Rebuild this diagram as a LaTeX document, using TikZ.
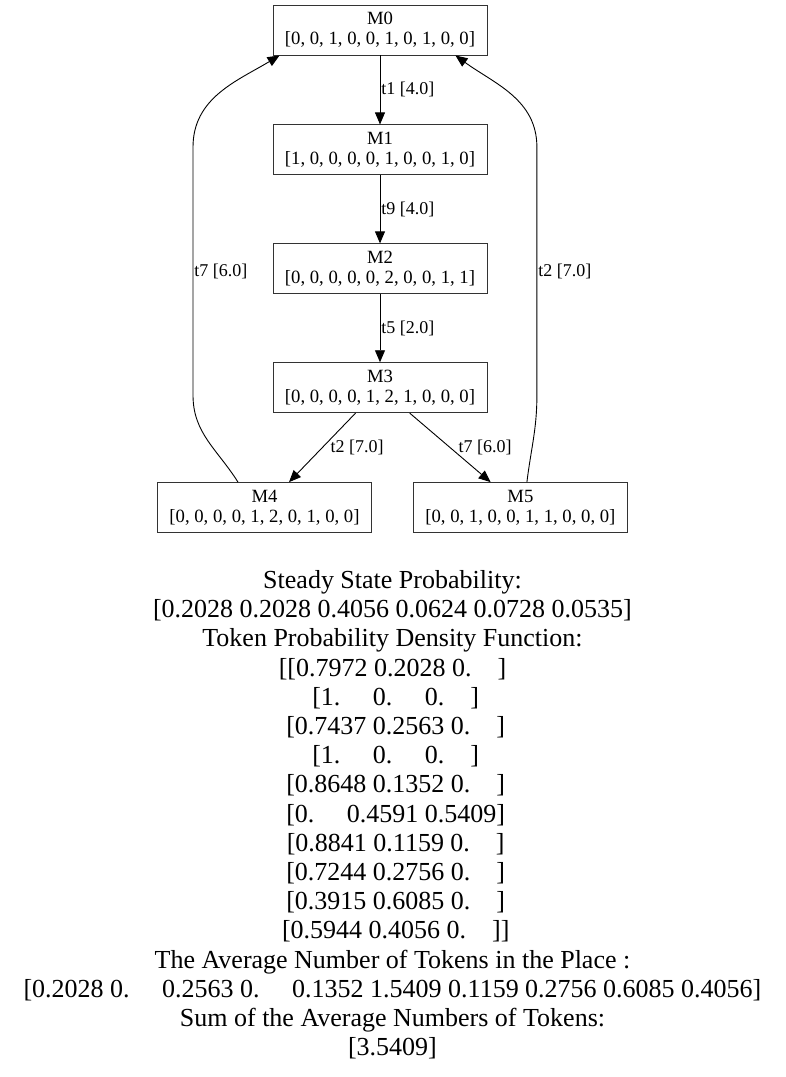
\documentclass[tikz,border=0pt]{standalone}
\usepackage{fontspec}
\setmainfont{Liberation Serif}
\usetikzlibrary{arrows.meta}
\usetikzlibrary{positioning}

\newcommand{\padsp}[1]{\hspace*{#1em}}

\begin{document}
\begin{tikzpicture}[x=1pt, y=1pt, ->, >={Triangle[length=12pt,width=10pt]}, line width=0.9pt,
  state/.style={rectangle, draw=black!80, minimum width=214pt, minimum height=50pt, align=center, inner sep=0pt, font=\fontsize{18.7}{20}\selectfont},
  lbl/.style={font=\fontsize{18}{20}\selectfont, inner sep=1pt},
  report/.style={align=center, inner sep=0pt, font=\fontsize{26}{29.2}\selectfont}]
	  \fill[white,-] (0,0) rectangle (785,-1077);
	  \useasboundingbox (0,0) rectangle (785,-1077);

	  \node[state] (m0) at (380,-30) {M0\\{}[0, 0, 1, 0, 0, 1, 0, 1, 0, 0]};
	  \node[state] (m1) [below = 69pt of m0] {M1\\{}[1, 0, 0, 0, 0, 1, 0, 0, 1, 0]};
	  \node[state] (m2) [below = 68pt of m1] {M2\\{}[0, 0, 0, 0, 0, 2, 0, 0, 1, 1]};
	  \node[state] (m3) [below = 68pt of m2] {M3\\{}[0, 0, 0, 0, 1, 2, 1, 0, 0, 0]};
	  \node[state] (m4) [below = 69pt of m3, xshift=-115.5pt] {M4\\{}[0, 0, 0, 0, 1, 2, 0, 1, 0, 0]};
	  \node[state] (m5) [right = 41pt of m4] {M5\\{}[0, 0, 1, 0, 0, 1, 1, 0, 0, 0]};

	  \path
	    (m0) edge node [lbl, right] {t1 [4.0]} (m1)
	    (m1) edge node [lbl, right] {t9 [4.0]} (m2)
	    (m2) edge node [lbl, right] {t5 [2.0]} (m3)

	    (m3) edge node [lbl, right=7pt] {t2 [7.0]} (m4)
	    (m3) edge node [lbl, right=7pt] {t7 [6.0]} (m5);

	  % back to the initial marking
	  \draw ([xshift=-26.5pt]m4.north) to[out=122,in=-90] ++(-45,87)
	    -- node [lbl, right] {t7 [6.0]} ++(0,248)
	    to[out=90,in=211] ([xshift=7pt]m0.south west);
	  \draw ([xshift=6.5pt]m5.north) to[out=83,in=-90] ++(10,87)
	    -- node [lbl, right] {t2 [7.0]} ++(0,248)
	    to[out=90,in=-36] ([xshift=-32pt]m0.south east);

	  \node[report, anchor=north] (stats) at (392.5,-570) {Steady State Probability:\\
	    {}[0.2028 0.2028 0.4056 0.0624 0.0728 0.0535]\\
	    Token Probability Density Function:\\
	    {}[[0.7972 0.2028 0.\padsp{1}]\\
	    \padsp{0.25}[1.\padsp{1.25}0.\padsp{1.25}0.\padsp{1}]\\
	    \padsp{0.25}[0.7437 0.2563 0.\padsp{1}]\\
	    \padsp{0.25}[1.\padsp{1.25}0.\padsp{1.25}0.\padsp{1}]\\
	    \padsp{0.25}[0.8648 0.1352 0.\padsp{1}]\\
	    \padsp{0.25}[0.\padsp{1.25}0.4591 0.5409]\\
	    \padsp{0.25}[0.8841 0.1159 0.\padsp{1}]\\
	    \padsp{0.25}[0.7244 0.2756 0.\padsp{1}]\\
	    \padsp{0.25}[0.3915 0.6085 0.\padsp{1}]\\
	    \padsp{0.25}[0.5944 0.4056 0.\padsp{1}]]\\
	    The Average Number of Tokens in the Place :\\
	    {}[0.2028 0.\padsp{1.25}0.2563 0.\padsp{1.25}0.1352 1.5409 0.1159 0.2756 0.6085 0.4056]\\
	    Sum of the Average Numbers of Tokens:\\
	    {}[3.5409]};
	\end{tikzpicture}
\end{document}
